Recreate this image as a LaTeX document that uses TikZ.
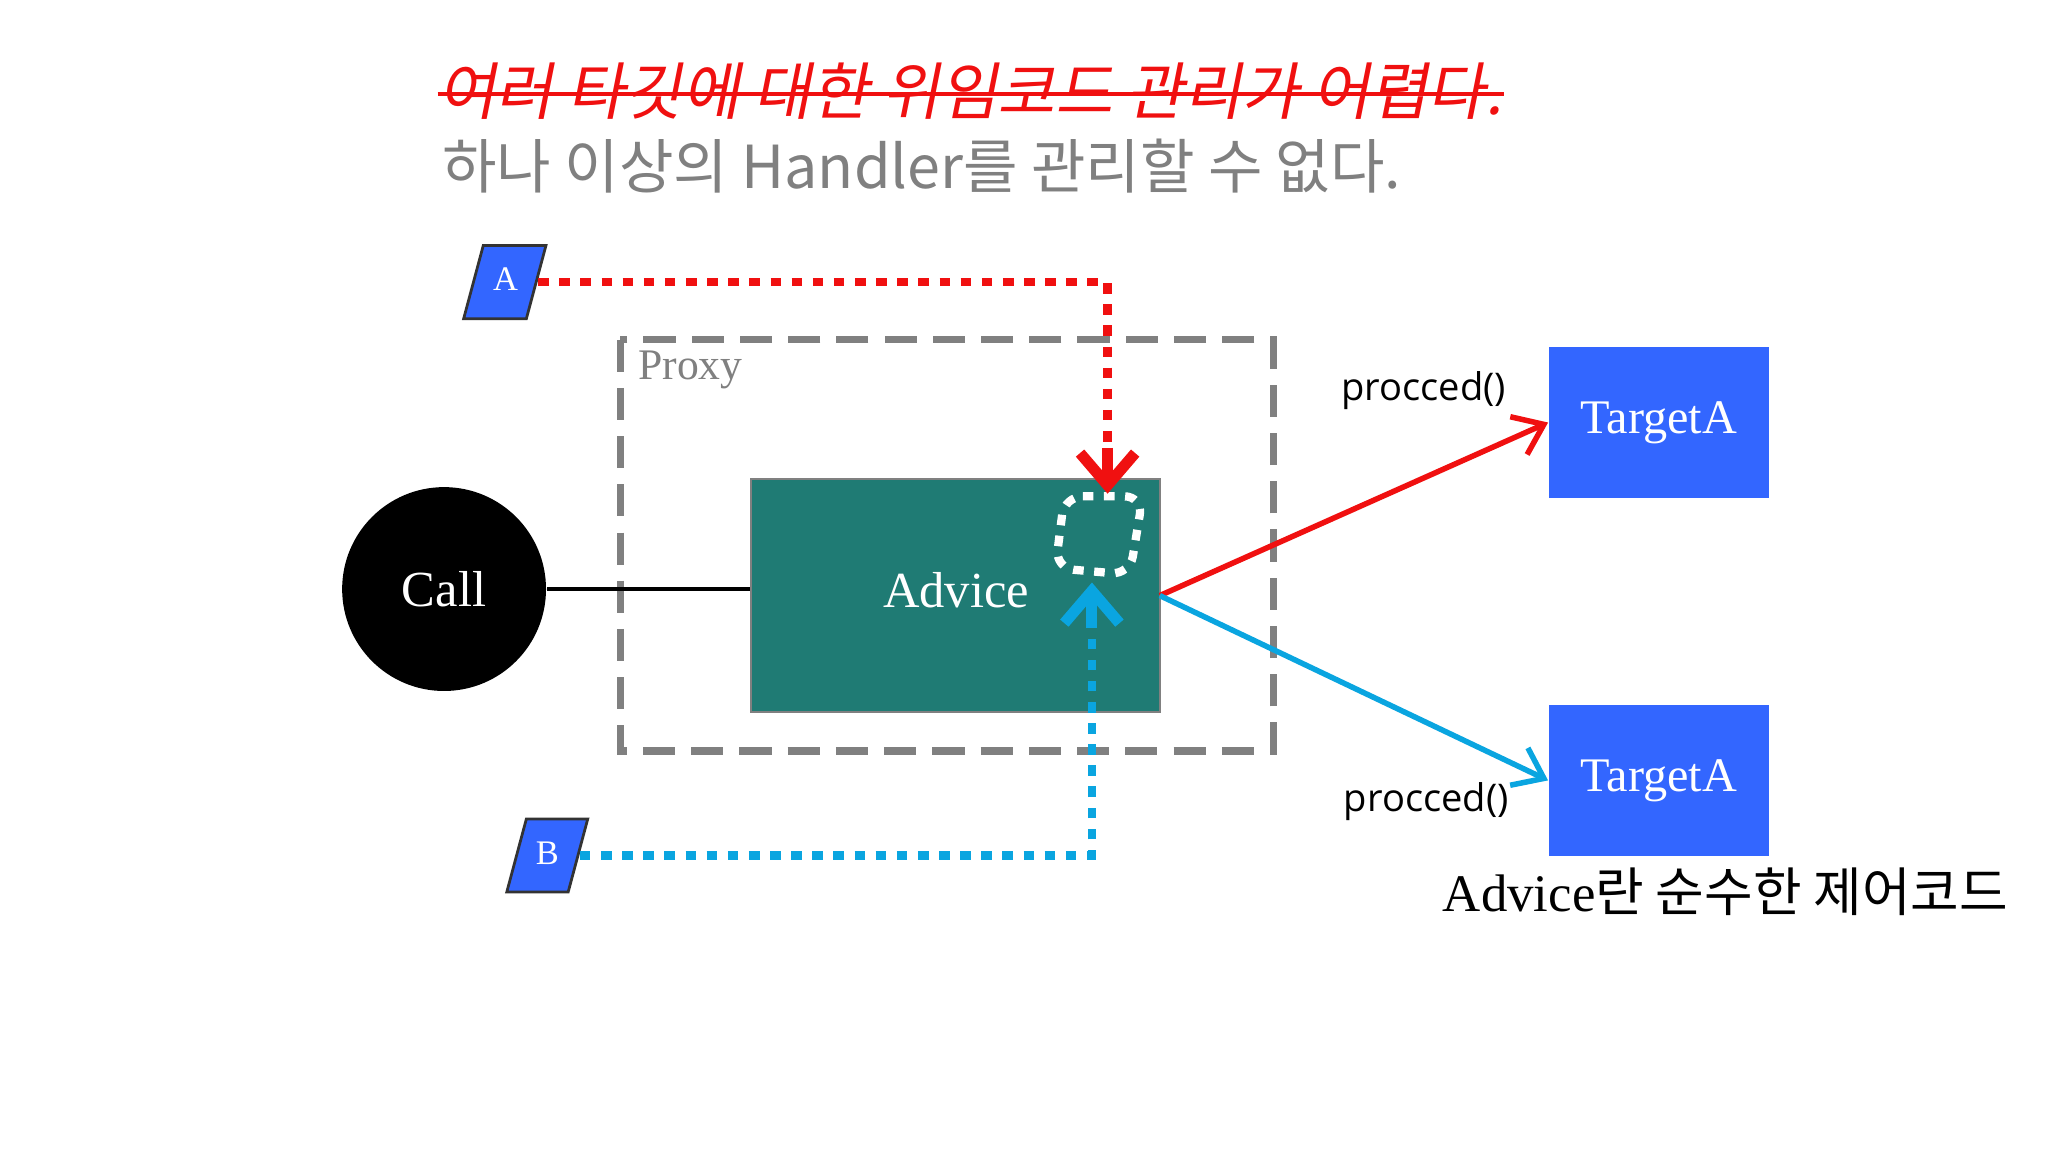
\documentclass[tikz,border=0pt]{standalone}
\usepackage{fontspec}
\setmainfont{Liberation Serif}
\setsansfont{Open Sans}
\newfontfamily\cjk{Noto Sans CJK KR}
\usetikzlibrary{arrows.meta,shapes.geometric}
\definecolor{tblue}{HTML}{3366FF}
\definecolor{teal2}{HTML}{1F7B74}
\definecolor{cyan2}{HTML}{0AA5E0}
\definecolor{red2}{HTML}{F01010}
\tikzset{
  paralbl/.style={text=white,font=\fontsize{7.5}{8}\selectfont,inner sep=0},
  paraline/.style={draw=black!80,fill=tblue,line width=0.6pt},
  target/.style={fill=tblue,minimum width=1.68cm,minimum height=1.15cm,text=white,font=\fontsize{10.5}{12}\selectfont},
  dotline/.style={line width=1.8pt,dash pattern=on 2.3pt off 2.3pt},
  tip/.style={-{Straight Barb[length=7pt,width=12pt,line width=2.4pt]},line width=2.4pt}
}
\begin{document}
\begin{tikzpicture}[x=0.01cm,y=-0.01cm]
\useasboundingbox[fill=white] (0,0) rectangle (1568,882);
% titles
\node[anchor=west,text=red2,font=\cjk\fontsize{13.6}{15}\selectfont,inner sep=0] (t1) at (335,70) {\addfontfeature{FakeSlant=0.2}여러 타깃에 대한 위임코드 관리가 어렵다.};
\draw[red2,line width=1pt] ([yshift=-0.02cm]t1.west) -- ([yshift=-0.02cm]t1.east);
\node[anchor=west,text=gray,font=\cjk\fontsize{12.9}{14}\selectfont,inner sep=0] (t2) at (338,127) {하나 이상의 Handler를 관리할 수 없다.};
% proxy
\draw[gray,line width=1.6pt,dash pattern=on 7pt off 3.5pt] (475,260) rectangle (975,575);
\node[anchor=north west,text=gray,font=\fontsize{9.5}{11}\selectfont,inner sep=0] (px) at (488,268) {Proxy};
% call
\node[circle,fill=black,minimum size=1.56cm,text=white,font=\fontsize{11}{13}\selectfont] (call) at (340,451) {Call};
\node[draw=gray,fill=teal2,minimum width=3.13cm,minimum height=1.78cm,inner sep=0] (adv) at (731.5,456) {};
\node[text=white,font=\fontsize{11}{13}\selectfont] (advt) at (732,452) {Advice};
\draw[line width=0.9pt] (call) -- (call -| adv.west);
\draw[white,line width=1.8pt,dash pattern=on 2.3pt off 2.3pt,rounded corners=4pt] (815,380) -- (875,380) -- (865,440) -- (808,435) -- cycle;
% targets
\node[target] (ta) at (1270,323.5) {TargetA};
\node[target] (tb) at (1270,597.5) {TargetA};
\node[font=\sffamily\fontsize{8.3}{10}\selectfont] (p1) at (1090,299) {procced()};
\node[font=\sffamily\fontsize{8.3}{10}\selectfont] (p2) at (1092,614) {procced()};
\coordinate (o) at (888,456);
\draw[red2,line width=1.2pt,-{Straight Barb[length=6pt,width=9pt,line width=1.2pt]}] (o) -- (ta.west);
\draw[cyan2,line width=1.2pt,-{Straight Barb[length=6pt,width=9pt,line width=1.2pt]}] (o) -- (tb.west);
\node[font=\cjk\fontsize{11.5}{13}\selectfont,inner sep=0] (note) at (1321,683) {\fontspec{Liberation Serif}Advice\cjk 란 순수한 제어코드};
% A and B
\draw[paraline] (370,188) -- (418,188) -- (403,244) -- (355,244) -- cycle;
\node[paralbl] (A) at (387,214) {A};
\draw[paraline] (403,627) -- (450,627) -- (435,683) -- (388,683) -- cycle;
\node[paralbl] (B) at (419,653) {B};
\coordinate (as) at (412,216);
\coordinate (bs) at (444,655);
\coordinate (ac) at (848,216);
\coordinate (ae) at (848,378);
\coordinate (bc) at (836,655);
\coordinate (be) at (836,446);
\draw[red2,dotline] (as) -- (ac) -- ([yshift=0.25cm]ae);
\draw[red2,tip] ([yshift=0.35cm]ae) -- (ae);
\draw[cyan2,dotline] (bs) -- (bc) -- ([yshift=-0.25cm]be);
\draw[cyan2,tip] ([yshift=-0.35cm]be) -- (be);
\end{tikzpicture}
\end{document}
